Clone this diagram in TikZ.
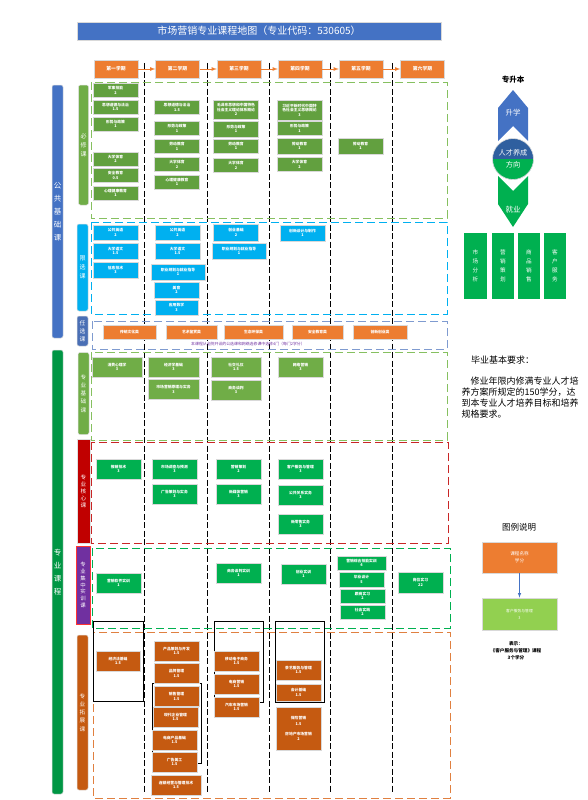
\documentclass[tikz,border=0pt]{standalone}
\usepackage{fontspec}
\setmainfont{Noto Sans CJK SC}
\XeTeXlinebreaklocale "zh"
\XeTeXlinebreakskip=0pt
\usetikzlibrary{arrows,positioning}

\definecolor{titleblue}{HTML}{4472C4}
\definecolor{termorange}{HTML}{ED7D31}
\definecolor{bxgreen}{HTML}{62A03F}
\definecolor{bxline}{HTML}{86C060}
\definecolor{xxblue}{HTML}{00B0F0}
\definecolor{rxblue}{HTML}{4A6FB5}
\definecolor{rxline}{HTML}{7F9BD0}
\definecolor{jcgreen}{HTML}{70AD47}
\definecolor{hxred}{HTML}{C00000}
\definecolor{coregreen}{HTML}{00B050}
\definecolor{sxpurple}{HTML}{7030A0}
\definecolor{tzorange}{HTML}{C55A11}
\definecolor{tzline}{HTML}{E08040}
\definecolor{ringblue}{HTML}{2F5F9F}
\definecolor{lggreen}{HTML}{92D050}

\tikzset{
  course/.style={inner sep=0pt, text width=45pt, minimum height=20pt, align=center,
    text=white, font=\fontsize{3.8}{4.6}\selectfont\bfseries, draw=white!70!gray, line width=0.3pt},
  bixiu/.style={course, fill=bxgreen, minimum height=14pt},
  xianxuan/.style={course, fill=xxblue, minimum height=15pt},
  renxuan/.style={course, fill=termorange, minimum height=14pt},
  jichu/.style={course, fill=jcgreen},
  hexin/.style={course, fill=coregreen},
  shixun/.style={course, fill=coregreen},
  tuozhan/.style={course, fill=tzorange},
  sidebar/.style={rounded corners=2pt, inner sep=0pt, align=center, text=white,
    draw=white!75!gray, line width=0.5pt, font=\fontsize{5.6}{7.8}\selectfont},
  region/.style={dash pattern=on 8pt off 4pt, line width=0.9pt},
  termline/.style={black, dash pattern=on 6pt off 2.5pt, line width=0.8pt},
  term/.style={fill=termorange, draw=white!70!gray, line width=0.5pt, minimum width=44pt,
    minimum height=18pt, inner sep=0pt, text=white, font=\fontsize{4.8}{5}\selectfont\bfseries},
  termarrow/.style={-latex, termorange, line width=0.8pt},
  groupbox/.style={draw=black, line width=0.9pt},
  jobbox/.style={fill=coregreen, minimum width=22pt, minimum height=66pt, inner sep=0pt,
    align=center, text=white, font=\fontsize{5.6}{9}\selectfont},
}

\begin{document}
\begin{tikzpicture}[x=1pt,y=-1pt]
\useasboundingbox (0,0) rectangle (588,800);

% title
\node[fill=titleblue, draw=white!70!gray, minimum width=364pt, minimum height=18pt, inner sep=0pt,
  text=white, font=\fontsize{10}{11}\selectfont] (title) at (259,31) {市场营销专业课程地图（专业代码：530605）};

% semester separators
\draw[termline] (144,63) -- (144,793);
\draw[termline] (207,63) -- (207,793);
\draw[termline] (269,63) -- (269,793);
\draw[termline] (330,63) -- (330,793);
\draw[termline] (392,63) -- (392,793);

% semesters
\node[term] (t1) at (116,69) {第一学期};
\node[term] (t2) at (177.5,69) {第二学期};
\node[term] (t3) at (239,69) {第三学期};
\node[term] (t4) at (300,69) {第四学期};
\node[term] (t5) at (361,69) {第五学期};
\node[term] (t6) at (422.5,69) {第六学期};
\draw[termarrow] (t1) -- (t2);
\draw[termarrow] (t2) -- (t3);
\draw[termarrow] (t3) -- (t4);
\draw[termarrow] (t4) -- (t5);
\draw[termarrow] (t5) -- (t6);

% side bars
\node[sidebar, fill=titleblue, minimum width=11pt, minimum height=253pt,
  font=\fontsize{7.5}{13}\selectfont] (ggbar) at (57.5,211.5) {公\\共\\基\\础\\课};
\node[sidebar, fill=coregreen!85!black, minimum width=11pt, minimum height=444pt,
  font=\fontsize{7.5}{13}\selectfont] (zybar) at (57.5,572) {专\\业\\课\\程};
\node[sidebar, fill=jcgreen, minimum width=10pt, minimum height=120pt,
  font=\fontsize{6}{9}\selectfont] (bxbar) at (83.5,145) {必\\修\\课};
\node[sidebar, fill=xxblue, minimum width=11pt, minimum height=87pt,
  font=\fontsize{6}{9}\selectfont] (xxbar) at (82.5,267.5) {限\\选\\课};
\node[sidebar, fill=rxblue, minimum width=11pt, minimum height=30pt,
  font=\fontsize{5.8}{8}\selectfont] (rxbar) at (82.5,331) {任\\选\\课};
\node[sidebar, fill=jcgreen, minimum width=11pt, minimum height=82pt,
  font=\fontsize{5.6}{8.3}\selectfont] (jcbar) at (83.5,393.5) {专\\业\\基\\础\\课};
\node[sidebar, fill=hxred, rounded corners=0pt, minimum width=13pt, minimum height=104pt,
  font=\fontsize{5.6}{7}\selectfont] (hxbar) at (83.5,491) {专\\业\\核\\心\\课};
\node[sidebar, fill=sxpurple, draw=red!80, rounded corners=0pt, minimum width=14pt, minimum height=78pt,
  font=\fontsize{5.4}{6.8}\selectfont] (sxbar) at (83,585) {专\\业\\集\\中\\实\\训\\课};
\node[sidebar, fill=tzorange, minimum width=11pt, minimum height=155pt,
  font=\fontsize{5.6}{8.3}\selectfont] (tzbar) at (82.5,712.5) {专\\业\\拓\\展\\课};

% regions
\draw[region, bxline] (91,82) rectangle (447,218);
\draw[region, xxblue] (91,222) rectangle (447,314);
\draw[region, rxline] (92,321) rectangle (447,349);
\draw[region, bxline] (91,352) rectangle (447,440);
\draw[region, hxred!85] (91,442) rectangle (448,543);
\draw[region, coregreen] (92,548) rectangle (450,628);
\draw[region, tzline] (93,632) rectangle (450,798);

% course groups
\draw[groupbox] (93,621) rectangle (143,701);
\draw[groupbox] (152,683) rectangle (201,763);
\draw[groupbox] (214,621) rectangle (263,702);
\draw[groupbox] (275,621) rectangle (324,702);

% compulsory
\node[bixiu] (bx11) at (115.5,90.5) {军事技能\\2};
\node[bixiu] (bx12) at (115.5,107) {思想道德与法治\\1.5};
\node[bixiu] (bx13) at (115.5,124) {形势与政策\\1};
\node[bixiu] (bx14) at (115.5,159) {大学体育\\2};
\node[bixiu] (bx15) at (115.5,175.5) {安全教育\\0.5};
\node[bixiu] (bx16) at (115.5,193) {心理健康教育\\1};
\node[bixiu] (bx21) at (177,107.5) {思想道德与法治\\1.5};
\node[bixiu] (bx22) at (177,128.5) {形势与政策\\1};
\node[bixiu] (bx23) at (177,146.5) {劳动教育\\1};
\node[bixiu] (bx24) at (177,164.5) {大学体育\\2};
\node[bixiu] (bx25) at (177,182) {心理健康教育\\1};
\node[bixiu, minimum height=19pt] (bx31) at (236,109.5) {毛泽东思想和中国特色社会主义理论体系概论\\2};
\node[bixiu, minimum height=16pt] (bx32) at (236,129) {形势与政策\\1};
\node[bixiu] (bx33) at (236,146) {劳动教育\\1};
\node[bixiu] (bx34) at (236,165.5) {大学体育\\2};
\node[bixiu, minimum height=20pt] (bx41) at (299.5,110) {习近平新时代中国特色社会主义思想概论\\3};
\node[bixiu] (bx42) at (299.5,128.5) {形势与政策\\1};
\node[bixiu, minimum height=16pt] (bx43) at (299.5,146) {劳动教育\\1};
\node[bixiu] (bx44) at (299.5,164.5) {大学体育\\2};
\node[bixiu, minimum height=16pt] (bx51) at (360.5,146) {劳动教育\\1};

% limited electives
\node[xianxuan] (xx11) at (115.5,232.5) {公共英语\\2};
\node[xianxuan, minimum height=16pt] (xx12) at (115.5,251) {大学语文\\1.5};
\node[xianxuan, minimum height=16pt] (xx13) at (115.5,270) {信息技术\\3};
\node[xianxuan] (xx21) at (177.5,232.5) {公共英语\\2};
\node[xianxuan, minimum height=16pt] (xx22) at (177.5,251) {大学语文\\1.5};
\node[xianxuan, text width=54pt, minimum height=16pt] (xx23) at (178,272) {职业规划与就业指导\\1};
\node[xianxuan, minimum height=16pt] (xx24) at (176.5,290) {美育\\2};
\node[xianxuan, text width=43pt] (xx25) at (176.5,307.5) {应用数学\\3};
\node[xianxuan, minimum height=17pt] (xx31) at (236,232.5) {创业基础\\2};
\node[xianxuan, text width=54pt, minimum height=16pt] (xx32) at (239,251) {职业规划与就业指导\\1};
\node[xianxuan, minimum height=16pt] (xx41) at (302.5,233) {创新设计与制作\\1};

% free electives
\node[renxuan, text width=53pt] (rx1) at (129.5,332) {传统文化类};
\node[renxuan, text width=51pt] (rx2) at (191.5,332) {艺术鉴赏类};
\node[renxuan, text width=59pt] (rx3) at (253.5,332) {生态环保类};
\node[renxuan, text width=51pt] (rx4) at (317.5,332) {安全教育类};
\node[renxuan, text width=54pt] (rx5) at (380,332) {创新创业类};
\node[text=sxpurple, inner sep=0pt, font=\fontsize{3.9}{4.5}\selectfont] (rxnote) at (248,344.5)
  {本课程从全院开设的公选课和网络选修课中选修4门（每门2学分）};

% professional basics
\node[jichu, text width=50pt] (jc1) at (117,367) {消费心理学\\3};
\node[jichu, text width=51pt] (jc2) at (173.5,367) {经济学基础\\3};
\node[jichu, text width=51pt] (jc3) at (173.5,389.5) {市场营销原理与实务\\3};
\node[jichu, text width=50pt] (jc4) at (236,367) {社交礼仪\\1.5};
\node[jichu, text width=50pt] (jc5) at (236,390) {商务谈判\\3};
\node[jichu] (jc6) at (300.5,367) {网络营销\\3};

% professional core
\node[hexin] (hx1) at (118.5,469) {推销技术\\3};
\node[hexin] (hx2) at (174.5,469) {市场调查与预测\\3};
\node[hexin] (hx3) at (174.5,494) {广告策划与实务\\3};
\node[hexin] (hx4) at (238.5,469) {营销策划\\2};
\node[hexin] (hx5) at (238.5,494) {新媒体营销\\3};
\node[hexin] (hx6) at (300.5,469) {客户服务与管理\\3};
\node[hexin] (hx7) at (300.5,495) {公共关系实务\\3};
\node[hexin] (hx8) at (300.5,524) {新零售实务\\3};

% practical training
\node[shixun] (sx1) at (118.5,583) {营销软件实训\\1};
\node[shixun] (sx2) at (238.5,573) {商务谈判实训\\1};
\node[shixun] (sx3) at (303.5,574) {创业实训\\1};
\node[shixun, text width=49pt, minimum height=14pt] (sx4) at (361.5,563) {营销综合技能实训\\4};
\node[shixun, minimum height=15pt] (sx5) at (361.5,579.5) {毕业设计\\5};
\node[shixun, minimum height=14pt] (sx6) at (362.5,596) {跟岗实习\\2};
\node[shixun, minimum height=14pt] (sx7) at (362.5,612) {社会实践\\2};
\node[shixun, minimum height=21pt] (sx8) at (420.5,582.5) {岗位实习\\22};

% professional extension
\node[tuozhan, text width=44pt] (tz1) at (118,661) {经济法基础\\1.5};
\node[tuozhan] (tz2) at (176.5,651) {产品策划与开发\\1.5};
\node[tuozhan] (tz3) at (176.5,673.5) {品牌管理\\1.5};
\node[tuozhan] (tz4) at (176.5,696.5) {销售管理\\1.5};
\node[tuozhan] (tz5) at (175.5,717) {现代企业管理\\1.5};
\node[tuozhan] (tz6) at (174.5,740) {电商产品基础\\1.5};
\node[tuozhan] (tz7) at (174.5,762) {广告美工\\1.5};
\node[tuozhan, text width=50pt] (tz8) at (176,785) {连锁经营与管理技术\\1.5};
\node[tuozhan] (tz9) at (236.5,661) {移动电子商务\\1.5};
\node[tuozhan] (tz10) at (236.5,684) {电商营销\\1.5};
\node[tuozhan] (tz11) at (236.5,707) {汽车市场营销\\1.5};
\node[tuozhan] (tz12) at (298.5,670) {茶艺服务与管理\\1.5};
\node[tuozhan, minimum height=17pt] (tz13) at (298.5,692.5) {会计基础\\1.5};
\node[tuozhan, minimum height=43pt, font=\fontsize{3.8}{5.2}\selectfont\bfseries] (tz14) at (298.5,728.5)
  {保险营销\\1.5\\[5pt]房地产市场营销\\2};

% direction
\node[font=\fontsize{7.5}{8}\selectfont\bfseries] (zsb) at (513,80) {专升本};
\fill[titleblue] (513,90) -- (528,108) -- (528,141) -- (513,126) -- (498,141) -- (498,108) -- cycle;
\node[text=white, font=\fontsize{7.5}{8}\selectfont] (sx) at (513,113) {升学};
\fill[coregreen] (498,176) -- (513,191) -- (528,176) -- (528,204) -- (513,227) -- (498,204) -- cycle;
\node[text=white, font=\fontsize{7.5}{8}\selectfont] (jy) at (513,210) {就业};
\node[circle, fill=ringblue, draw=white!75!gray, line width=0.6pt, minimum size=41pt, inner sep=0pt,
  path picture={\fill[coregreen] (path picture bounding box.west) rectangle (path picture bounding box.south east);},
  text=white, align=center, font=\fontsize{7.2}{12}\selectfont] (ring) at (513,159) {人才养成\\方向};
\node[jobbox, minimum width=23pt] (job1) at (475.5,266) {市\\场\\分\\析};
\node[jobbox] (job2) at (503,266) {营\\销\\策\\划};
\node[jobbox] (job3) at (529,266) {商\\品\\销\\售};
\node[jobbox] (job4) at (555,266) {客\\户\\服\\务};

% graduation
\node[anchor=west, inner sep=0pt, font=\fontsize{9}{11}\selectfont] (bytitle) at (471,360) {毕业基本要求：};
\node[anchor=north west, inner sep=0pt, align=left, font=\fontsize{9}{11}\selectfont] (bytext) at (461.5,376.5)
  {\hspace{9pt}修业年限内修满专业人才培\\养方案所规定的150学分，达\\到本专业人才培养目标和培养\\规格要求。};

% legend
\node[font=\fontsize{8.5}{9}\selectfont] (lgtitle) at (519,527) {图例说明};
\node[fill=termorange, draw=white!70!gray, line width=0.8pt, minimum width=75pt, minimum height=31pt,
  inner sep=0pt, align=center, text=white, font=\fontsize{4.6}{7}\selectfont] (lg1) at (519.5,557.5) {课程名称\\学分};
\node[fill=lggreen, draw=white!70!gray, line width=0.8pt, minimum width=75pt, minimum height=32pt,
  inner sep=0pt, align=center, text=white, font=\fontsize{3.8}{7}\selectfont] (lg2) at (519.5,614) {客户服务与管理\\3};
\draw[-latex, titleblue, line width=0.6pt] (lg1) -- (lg2);
\node[align=center, inner sep=0pt, font=\fontsize{4.6}{6.8}\selectfont\bfseries] (lgnote) at (516,651)
  {表示：\\《客户服务与管理》课程\\3个学分};

\end{tikzpicture}
\end{document}
